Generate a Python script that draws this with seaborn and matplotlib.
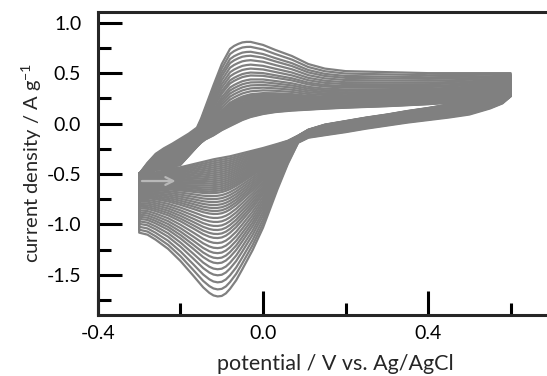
import matplotlib
matplotlib.use("Agg")
import matplotlib.pyplot as plt
import numpy as np
import pandas as pd
import seaborn as sns

# potential grid of the anodic (forward) scan, V vs. Ag/AgCl
E_fwd = [-0.30, -0.28, -0.26, -0.24, -0.22, -0.20, -0.18, -0.16, -0.15, -0.14,
         -0.12, -0.10, -0.08, -0.07, -0.06, -0.05, -0.04, -0.03, -0.02, 0.00,
         0.03, 0.07, 0.11, 0.15, 0.20, 0.30, 0.40, 0.45, 0.50, 0.55, 0.60]
# outermost / innermost forward branch, A g-1
i_fwd_outer = [-0.50, -0.39, -0.30, -0.245, -0.20, -0.15, -0.10, -0.04, 0.05, 0.16,
               0.38, 0.59, 0.74, 0.77, 0.79, 0.805, 0.81, 0.81, 0.80, 0.78,
               0.73, 0.67, 0.59, 0.545, 0.52, 0.51, 0.50, 0.50, 0.50, 0.50, 0.50]
i_fwd_inner = [-0.50, -0.48, -0.46, -0.445, -0.43, -0.41, -0.32, -0.23, -0.19, -0.16,
               -0.12, -0.07, -0.03, -0.01, 0.01, 0.03, 0.045, 0.06, 0.07, 0.09,
               0.11, 0.125, 0.135, 0.145, 0.155, 0.17, 0.19, 0.205, 0.23, 0.265, 0.32]

# potential grid of the cathodic (reverse) scan
E_rev = [0.60, 0.58, 0.55, 0.50, 0.45, 0.40, 0.35, 0.30, 0.25, 0.20,
         0.15, 0.11, 0.085, 0.06, 0.035, 0.00, -0.025, -0.05, -0.065, -0.08,
         -0.09, -0.10, -0.11, -0.12, -0.13, -0.145, -0.17, -0.20, -0.23, -0.26,
         -0.28, -0.30]
i_rev_outer = [0.27, 0.20, 0.15, 0.09, 0.06, 0.035, 0.01, -0.02, -0.05, -0.085,
               -0.115, -0.14, -0.19, -0.40, -0.65, -1.03, -1.25, -1.44, -1.55, -1.635,
               -1.68, -1.705, -1.71, -1.70, -1.675, -1.62, -1.50, -1.36, -1.24, -1.15,
               -1.10, -1.08]
i_rev_inner = [0.30, 0.28, 0.26, 0.23, 0.19, 0.155, 0.125, 0.09, 0.06, 0.025,
               -0.01, -0.06, -0.12, -0.17, -0.20, -0.24, -0.265, -0.29, -0.305, -0.32,
               -0.327, -0.335, -0.342, -0.35, -0.36, -0.375, -0.40, -0.43, -0.455, -0.48,
               -0.495, -0.51]

# peak currents of each cycle read at the anodic (-0.04 V) and cathodic (-0.10 V) peaks
anodic_peak = [0.81, 0.76, 0.71, 0.67, 0.625, 0.58, 0.54, 0.50, 0.47, 0.43,
               0.40, 0.37, 0.34, 0.31, 0.28, 0.265, 0.25, 0.235, 0.22, 0.21,
               0.20, 0.19, 0.18, 0.17, 0.16, 0.15, 0.14, 0.13, 0.12, 0.115,
               0.11, 0.10, 0.095, 0.09, 0.085, 0.08, 0.075, 0.07, 0.06, 0.055,
               0.05]
cathodic_peak = [-1.71, -1.64, -1.57, -1.50, -1.44, -1.38, -1.33, -1.28, -1.23, -1.18,
                 -1.13, -1.09, -1.05, -1.01, -0.97, -0.93, -0.89, -0.86, -0.83, -0.80,
                 -0.77, -0.74, -0.71, -0.68, -0.66, -0.64, -0.62, -0.60, -0.58, -0.56,
                 -0.54, -0.52, -0.50, -0.48, -0.46, -0.44, -0.42, -0.40, -0.38, -0.36,
                 -0.34]

x_ticks = [-0.4, 0.0, 0.4]
y_ticks = [-1.5, -1.0, -0.5, 0.0, 0.5, 1.0]

fo, fi = np.array(i_fwd_outer), np.array(i_fwd_inner)
ro, ri = np.array(i_rev_outer), np.array(i_rev_inner)
ka = E_fwd.index(-0.04)
kc = E_rev.index(-0.10)

frames = []
for n, (pa, pc) in enumerate(zip(anodic_peak, cathodic_peak)):
    wa = (pa - fi[ka]) / (fo[ka] - fi[ka])
    wc = (pc - ri[kc]) / (ro[kc] - ri[kc])
    fwd = fi + wa * (fo - fi)
    rev = ri + wc * (ro - ri)
    E = list(E_fwd) + list(E_rev) + [E_fwd[0]]
    cur = list(fwd) + list(rev) + [fwd[0]]
    frames.append(pd.DataFrame({"E": E, "i": cur, "cycle": n}))
df = pd.concat(frames, ignore_index=True)

sns.set_style("ticks")
plt.rcParams["font.family"] = ["Lato", "DejaVu Sans"]
plt.rcParams["axes.unicode_minus"] = False
plt.rcParams["mathtext.default"] = "regular"

fig = plt.figure(figsize=(5.47, 3.76), dpi=100)
ax = fig.add_axes([0.179, 0.162, 0.821, 0.807])

sns.lineplot(data=df, x="E", y="i", units="cycle", estimator=None, sort=False,
             color="#808080", lw=1.6, ax=ax, legend=False)

ax.annotate("", xy=(-0.205, -0.57), xytext=(-0.30, -0.57), zorder=5,
            arrowprops=dict(arrowstyle="->", color="#b8b8b8", lw=1.6, mutation_scale=14))

ax.set_xlim(-0.4, 0.688)
ax.set_ylim(-1.9, 1.11)
ax.set_xticks(x_ticks)
ax.set_xticklabels([f"{v:.1f}" for v in x_ticks])
ax.set_yticks(y_ticks)
ax.set_yticklabels([f"{v:.1f}" for v in y_ticks])
ax.set_xticks([-0.2, 0.2, 0.6], minor=True)
ax.set_yticks([-1.75, -1.25, -0.75, -0.25, 0.25, 0.75], minor=True)

for side in ["left", "bottom", "top"]:
    ax.spines[side].set_linewidth(2.2)
ax.spines["right"].set_visible(False)
ax.tick_params(which="both", direction="in", width=2.2, top=False, right=False,
               labelsize=14, colors="black")
ax.tick_params(which="major", length=17)
ax.tick_params(which="minor", length=9)
ax.tick_params(axis="x", pad=7)
ax.tick_params(axis="y", pad=12)

ax.set_xlabel("potential / V vs. Ag/AgCl", fontsize=15.5, x=0.529, labelpad=9)
ax.set_ylabel("current density / A g$^{-1}$", fontsize=14.5, labelpad=2)

fig.savefig("out.png", dpi=100)
